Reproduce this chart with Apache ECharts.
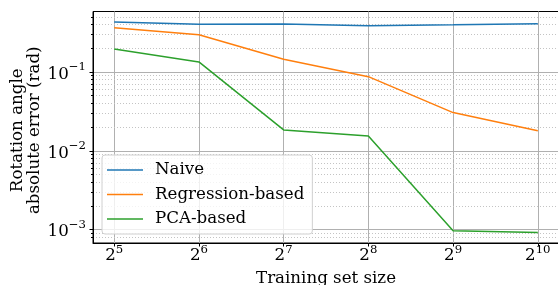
<!DOCTYPE html>
<html>
<head>
<meta charset="utf-8">
<script src="https://cdn.jsdelivr.net/npm/echarts@6/dist/echarts.min.js"></script>
<style>
  html, body { margin: 0; padding: 0; background: #fff; }
  #chart { width: 558px; height: 285px; }
</style>
</head>
<body>
<div id="chart"></div>
<script>
// training set sizes (x) and errors per method (y, rad)
const sizes = [32, 64, 128, 256, 512, 1024];
const naive = [0.430, 0.403, 0.407, 0.387, 0.398, 0.410];
const regression = [0.365, 0.297, 0.145, 0.0872, 0.0305, 0.018];
const pca = [0.196, 0.134, 0.0184, 0.0154, 0.00097, 0.000916];

// y ticks
const yMajor = [0.001, 0.01, 0.1];
const yMinor = [
  0.0008, 0.0009,
  0.002, 0.003, 0.004, 0.005, 0.006, 0.007, 0.008, 0.009,
  0.02, 0.03, 0.04, 0.05, 0.06, 0.07, 0.08, 0.09,
  0.2, 0.3, 0.4, 0.5
];

const FONT = "'DejaVu Serif', serif";
const FS = 16.67;
const chart = echarts.init(document.getElementById("chart"));

// superscript labels: base text + raised exponent
function supRich(baseLH, supLH) {
  return {
    b: { fontFamily: FONT, fontSize: FS, color: "#000", lineHeight: baseLH, verticalAlign: "bottom" },
    s: { fontFamily: FONT, fontSize: 11.7, color: "#000", lineHeight: supLH, verticalAlign: "top" },
  };
}

function toPoints(vals) {
  return sizes.map((s, i) => [s, vals[i]]);
}

function lineSeries(name, vals, color) {
  return {
    name,
    type: "line",
    data: toPoints(vals),
    symbol: "none",
    lineStyle: { width: 1.5, color },
    itemStyle: { color },
    z: 5,
  };
}

const option = {
  backgroundColor: "#fff",
  animation: false,
  textStyle: { fontFamily: FONT },
  grid: {
    left: 93,
    top: 11.5,
    width: 466,
    bottom: 42,
    show: true,
    borderColor: "#000",
    borderWidth: 1,
    backgroundColor: "transparent",
    outerBoundsMode: "none",
  },
  legend: {
    orient: "vertical",
    left: 102,
    top: 155,
    icon: "rect",
    itemWidth: 36,
    itemHeight: 1.6,
    itemGap: 7.5,
    padding: [6.5, 8, 6.5, 5],
    backgroundColor: "rgba(255,255,255,0.8)",
    borderColor: "#d0d0d0",
    borderWidth: 1,
    borderRadius: 3,
    textStyle: { fontFamily: FONT, fontSize: FS, lineHeight: 17, color: "#000", padding: [0, 0, 0, 7] },
    data: ["Naive", "Regression-based", "PCA-based"],
  },
  xAxis: {
    type: "log",
    logBase: 2,
    min: Math.pow(2, 4.75),
    max: Math.pow(2, 10.25),
    name: "Training set size",
    nameLocation: "middle",
    nameGap: 27,
    nameMoveOverlap: false,
    nameTextStyle: { fontFamily: FONT, fontSize: FS, color: "#000" },
    axisLine: { lineStyle: { color: "#000", width: 1 } },
    axisTick: { customValues: sizes, length: 3.5, lineStyle: { color: "#000" } },
    axisLabel: {
      customValues: sizes,
      margin: 1,
      formatter: (v) => "{b|2}{s|" + Math.round(Math.log2(v)) + "}",
      rich: supRich(20, 6),
    },
    splitLine: { show: true, lineStyle: { color: "#b0b0b0", width: 1 } },
  },
  yAxis: [
    {
      type: "log",
      min: Math.pow(10, -3.17),
      max: Math.pow(10, -0.233),
      name: "Rotation angle\nabsolute error (rad)",
      nameLocation: "middle",
      nameGap: 50,
      nameMoveOverlap: false,
      nameRotate: 90,
      nameTextStyle: { fontFamily: FONT, fontSize: FS, color: "#000", lineHeight: 17, padding: [0, 6, 0, 0] },
      axisLine: { show: true, lineStyle: { color: "#000", width: 1 } },
      axisTick: { customValues: yMajor, length: 3.5, lineStyle: { color: "#000" } },
      axisLabel: {
        customValues: yMajor,
        margin: 7,
        formatter: (v) => "{b|10}{s|\u2212" + Math.round(-Math.log10(v)) + "}",
        rich: supRich(22, 10),
      },
      splitLine: { show: true, lineStyle: { color: "#b0b0b0", width: 1 } },
      z: 3,
    },
    {
      type: "log",
      position: "left",
      min: Math.pow(10, -3.17),
      max: Math.pow(10, -0.233),
      axisLine: { show: false },
      axisTick: { customValues: yMinor, length: 2, lineStyle: { color: "#000" } },
      axisLabel: { show: false },
      splitLine: { show: true, lineStyle: { color: "#c4c4c4", width: 1, type: [1, 2] } },
      z: 2,
    },
  ],
  series: [
    lineSeries("Naive", naive, "#1f77b4"),
    lineSeries("Regression-based", regression, "#ff7f0e"),
    lineSeries("PCA-based", pca, "#2ca02c"),
  ],
};

chart.setOption(option);
</script>
</body>
</html>
